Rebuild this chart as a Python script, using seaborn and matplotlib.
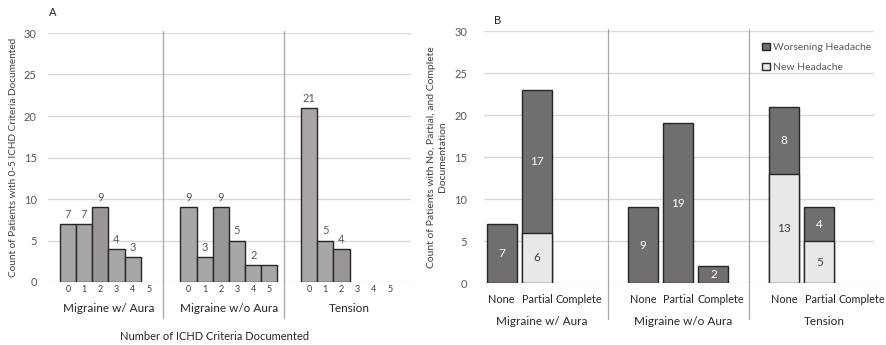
import numpy as np
import pandas as pd
import matplotlib
matplotlib.use("Agg")
import matplotlib.pyplot as plt
import seaborn as sns
from matplotlib.patches import Patch

sns.set_theme(style="white")
plt.rcParams['font.family'] = ['Lato', 'DejaVu Sans']

# Panel A data: count of patients by number of ICHD criteria documented
groups = ["Migraine w/ Aura", "Migraine w/o Aura", "Tension"]
criteria = ["0", "1", "2", "3", "4", "5"]
a_aura = [7, 7, 9, 4, 3, 0]
a_no_aura = [9, 3, 9, 5, 2, 2]
a_tension = [21, 5, 4, 0, 0, 0]
# value labels as printed on the figure
a_aura_labels = ["7", "7", "9", "4", "3", ""]
a_no_aura_labels = ["9", "3", "9", "5", "2", ""]
a_tension_labels = ["21", "5", "4", "", "", ""]

# Panel B data: no / partial / complete documentation
levels = ["None", "Partial", "Complete"]
b_worse_aura = [7, 17, 0]
b_worse_no_aura = [9, 19, 2]
b_worse_tension = [8, 4, 0]
b_new_aura = [0, 6, 0]
b_new_no_aura = [0, 0, 0]
b_new_tension = [13, 5, 0]

GRID = "#d9d9d9"
TXT = "#595959"
A_COL = "#aaa6a6"
A_COL_DARK = "#9a9696"
DARK = "#736e6e"
LIGHT = "#e8e8e8"

fig = plt.figure(figsize=(8.87, 3.45), dpi=100)

# ---------------- Panel A ----------------
axA = fig.add_axes([48 / 887, 1 - 282 / 345, 363 / 887, 249 / 345])
a_step = 7.45
rows = []
for g, (vals, labs) in enumerate(zip([a_aura, a_no_aura, a_tension],
                                     [a_aura_labels, a_no_aura_labels, a_tension_labels])):
    for i, (v, l) in enumerate(zip(vals, labs)):
        rows.append({"group": groups[g], "crit": criteria[i], "idx": i,
                     "pos": g * a_step + i, "count": v, "label": l})
dfA = pd.DataFrame(rows)
dfA_bars = dfA[dfA["count"] > 0].reset_index(drop=True)

sns.barplot(data=dfA_bars, x="pos", y="count", native_scale=True, width=1.0,
            color=A_COL, edgecolor="#262626", linewidth=1.0, ax=axA, zorder=3)
cont = axA.containers[0]
for patch, idx in zip(cont, dfA_bars["idx"]):
    patch.set_facecolor(A_COL_DARK if idx == 2 else A_COL)
axA.bar_label(cont, labels=list(dfA_bars["label"]), padding=3, fontsize=8, color=TXT)

axA.set_xlim(-1.23, 2 * a_step + 5 + 1.3)
axA.set_ylim(0, 30)
axA.set_yticks(range(0, 31, 5))
axA.set_xticks(dfA["pos"])
axA.set_xticklabels(dfA["crit"], fontsize=6.5, color="#404040")
axA.tick_params(axis="x", length=0, pad=2)
axA.tick_params(axis="y", length=0, pad=8, labelsize=8, labelcolor=TXT)
for lab in axA.get_yticklabels():
    lab.set_color(TXT)
axA.grid(axis="y", color=GRID, linewidth=1, zorder=0)
axA.set_axisbelow(True)
sns.despine(ax=axA, left=True, bottom=True, top=True, right=True)
axA.set_xlabel("")
axA.set_ylabel("Count of Patients with 0-5 ICHD Criteria Documented", fontsize=7.2, color="#404040")
axA.yaxis.set_label_coords(-30 / 363, 0.5)
trA = axA.get_xaxis_transform()
for g, name in enumerate(groups):
    axA.text(g * a_step + 2.5, -0.108, name, transform=trA, ha="center", va="center",
             fontsize=8.5, color="#262626")
for g in (1, 2):
    axA.plot([g * a_step - 1.55] * 2, [-0.145, 1.008], transform=trA, color="#a6a6a6",
             linewidth=0.9, clip_on=False)
fig.text(215 / 887, 1 - 337 / 345, "Number of ICHD Criteria Documented", ha="center",
         va="center", fontsize=8, color="#262626")
fig.text(53 / 887, 1 - 13 / 345, "A", ha="center", va="center", fontsize=8, color="#262626")

# ---------------- Panel B ----------------
axB = fig.add_axes([484 / 887, 1 - 283 / 345, 390 / 887, 252 / 345])
b_step = 4
rows = []
for g, (w, n) in enumerate(zip([b_worse_aura, b_worse_no_aura, b_worse_tension],
                               [b_new_aura, b_new_no_aura, b_new_tension])):
    for i in range(3):
        rows.append({"group": groups[g], "level": levels[i], "idx": i, "pos": g * b_step + i,
                     "worse": w[i], "new": n[i], "total": w[i] + n[i]})
dfB = pd.DataFrame(rows)
tot = dfB[dfB["total"] > 0].reset_index(drop=True)
new = dfB[dfB["new"] > 0].reset_index(drop=True)

sns.barplot(data=tot, x="pos", y="total", native_scale=True, width=0.85, color=DARK,
            edgecolor="#262626", linewidth=1.0, ax=axB, zorder=3)
sns.barplot(data=new, x="pos", y="new", native_scale=True, width=0.85, color=LIGHT,
            edgecolor="#262626", linewidth=1.0, ax=axB, zorder=4)
for patch in axB.containers[0]:
    patch.set_facecolor(DARK)
for patch in axB.containers[1]:
    patch.set_facecolor(LIGHT)

# labels: worsening in the middle of the dark part, new in the middle of the light part
for _, r in tot.iterrows():
    if r["worse"] > 0:
        axB.text(r["pos"], r["new"] + r["worse"] / 2, str(r["worse"]), ha="center",
                 va="center", fontsize=8.5, color="white", zorder=5)
for _, r in new.iterrows():
    axB.text(r["pos"], r["new"] / 2, str(r["new"]), ha="center", va="center",
             fontsize=8.5, color="#404040", zorder=5)

axB.set_xlim(-0.5, 10.55)
axB.set_ylim(0, 30)
axB.set_yticks(range(0, 31, 5))
# Excel nudges the wide "Complete" label a bit to the right
label_nudge = [0.0, 0.02, 0.2]
axB.set_xticks(dfB["pos"] + [label_nudge[i] for i in dfB["idx"]])
axB.set_xticklabels(dfB["level"], fontsize=7.8, color="#262626")
axB.tick_params(axis="x", length=0, pad=8)
axB.tick_params(axis="y", length=0, pad=12, labelsize=8)
for lab in axB.get_yticklabels():
    lab.set_color(TXT)
axB.grid(axis="y", color=GRID, linewidth=1, zorder=0)
axB.set_axisbelow(True)
sns.despine(ax=axB, left=True, bottom=True, top=True, right=True)
axB.set_xlabel("")
axB.set_ylabel("Count of Patients with No, Partial, and Complete\nDocumentation",
               fontsize=7.5, color="#404040", linespacing=1.3)
axB.yaxis.set_label_coords(-37 / 390, 0.5)
trB = axB.get_xaxis_transform()
for g, name in enumerate(groups):
    axB.text(g * b_step + 1.15, -0.152, name, transform=trB, ha="center", va="center",
             fontsize=8.5, color="#262626")
for g in (1, 2):
    axB.plot([g * b_step - 1] * 2, [-0.143, 1.008], transform=trB, color="#a6a6a6",
             linewidth=0.9, clip_on=False)
handles = [Patch(facecolor=DARK, edgecolor="#262626", label="Worsening Headache"),
           Patch(facecolor=LIGHT, edgecolor="#262626", label="New Headache")]
axB.legend(handles=handles, loc="upper left", bbox_to_anchor=(0.69, 0.99), frameon=False,
           fontsize=7.5, handlelength=0.7, handleheight=0.7, handletextpad=0.3,
           labelspacing=1.0, labelcolor=TXT)
fig.text(498 / 887, 1 - 20 / 345, "B", ha="center", va="center", fontsize=8, color="#262626")

fig.savefig("out.png", dpi=100)
